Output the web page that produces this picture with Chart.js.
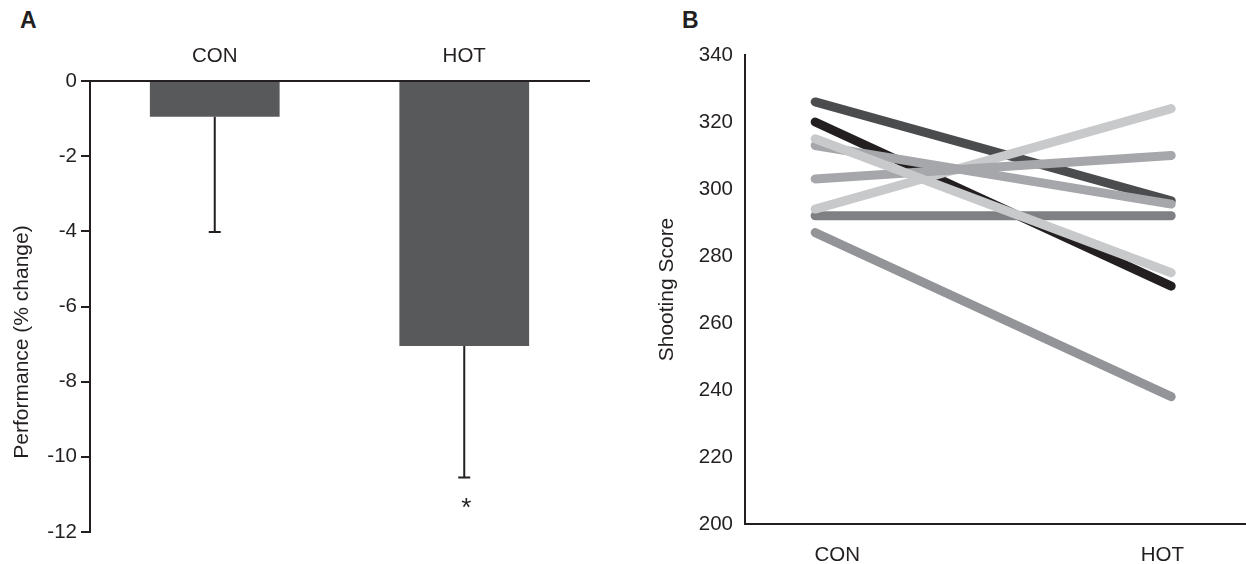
<!DOCTYPE html>
<html>
<head>
<meta charset="utf-8">
<script src="https://cdn.jsdelivr.net/npm/chart.js@4/dist/chart.umd.min.js"></script>
<style>
  body { margin: 0; background: #fff; width: 1246px; height: 564px; position: relative; overflow: hidden; }
  .panel { position: absolute; top: 0; }
  .letter { position: absolute; font: bold 23px 'Liberation Sans', Arial, sans-serif; color: #231f20; }
</style>
</head>
<body>
<div class="letter" style="left:20px; top:7px;">A</div>
<div class="letter" style="left:682px; top:7px;">B</div>
<div class="panel" style="left:0;"><canvas id="chartA" width="600" height="564"></canvas></div>
<div class="panel" style="left:640px;"><canvas id="chartB" width="606" height="564"></canvas></div>
<script>
// panel A: mean change in performance with error (SE) below the bar
const groups = ['CON', 'HOT'];
const perfMean = [-0.95, -7.05];
const perfErr = [3.07, 3.5];
const significant = [false, true];

// panel B: individual shooting scores, CON vs HOT (first listed is drawn on top)
const conScores = [315, 303, 313, 294, 292, 320, 326, 287];
const hotScores = [275, 310, 295.5, 324, 292, 271, 296.5, 238];
const lineColors = ['#c8c9cb', '#a6a7aa', '#a6a7aa', '#c8c9cb', '#7f8083', '#231f20', '#4b4c4e', '#939497'];

const ink = '#231f20';
const fontFamily = "'Liberation Sans', Arial, sans-serif";
Chart.defaults.font.family = fontFamily;
Chart.defaults.font.size = 20.5;
Chart.defaults.color = ink;

// downward error bars, the asterisk and the y title (sits low in the original)
const errorBars = {
    id: 'errorBars',
    afterDatasetsDraw(chart) {
        const ctx = chart.ctx;
        const yScale = chart.scales.y;
        const meta = chart.getDatasetMeta(0);
        ctx.save();
        ctx.strokeStyle = ink;
        ctx.fillStyle = ink;
        ctx.lineWidth = 2;
        meta.data.forEach(function(bar, i) {
            const x = bar.x;
            const y0 = yScale.getPixelForValue(perfMean[i]);
            const y1 = yScale.getPixelForValue(perfMean[i] - perfErr[i]);
            ctx.beginPath();
            ctx.moveTo(x, y0);
            ctx.lineTo(x, y1);
            ctx.moveTo(x - 6, y1);
            ctx.lineTo(x + 6, y1);
            ctx.stroke();
            if (significant[i]) {
                ctx.font = '26px ' + fontFamily;
                ctx.textAlign = 'center';
                ctx.textBaseline = 'middle';
                ctx.fillText('*', x + 2, y1 + 31);
            }
        });

        ctx.translate(22, 342);
        ctx.rotate(-Math.PI / 2);
        ctx.font = '21px ' + fontFamily;
        ctx.textAlign = 'center';
        ctx.textBaseline = 'middle';
        ctx.fillText('Performance (% change)', 0, 0);
        ctx.restore();
    }
};

new Chart(document.getElementById('chartA'), {
    type: 'bar',
    data: {
        labels: groups,
        datasets: [{
            data: perfMean,
            backgroundColor: '#58595b',
            barPercentage: 0.52,
            categoryPercentage: 1
        }]
    },
    options: {
        responsive: false,
        animation: false,
        layout: { padding: { top: 0, right: 11, bottom: 32, left: 0 } },
        plugins: { legend: { display: false }, tooltip: { enabled: false } },
        scales: {
            x: {
                position: 'top',
                grid: { display: false, drawTicks: false },
                border: { display: true, color: ink, width: 2 },
                ticks: { padding: 12 },
                afterFit: function(s) { s.height = 81; }
            },
            y: {
                min: -12,
                max: 0,
                ticks: { stepSize: 2, padding: 4 },
                grid: { display: true, drawOnChartArea: false, drawTicks: true, tickLength: 9, color: ink, lineWidth: 2 },
                border: { display: true, color: ink, width: 2 },
                afterFit: function(s) { s.width = 90; }
            }
        }
    },
    plugins: [errorBars]
});

new Chart(document.getElementById('chartB'), {
    type: 'line',
    data: {
        datasets: conScores.map(function(c, i) {
            return {
                data: [{ x: 0, y: c }, { x: 1, y: hotScores[i] }],
                borderColor: lineColors[i],
                borderWidth: 9,
                borderCapStyle: 'round',
                pointRadius: 0,
                tension: 0,
                clip: false
            };
        })
    },
    options: {
        responsive: false,
        animation: false,
        layout: { padding: { top: 55, right: 0, bottom: 0, left: 0 } },
        plugins: { legend: { display: false }, tooltip: { enabled: false } },
        scales: {
            x: {
                type: 'linear',
                min: -0.197,
                max: 1.21,
                grid: { display: false, drawTicks: false },
                border: { display: true, color: ink, width: 2 },
                ticks: {
                    padding: 19,
                    autoSkip: false,
                    callback: function(v, i) { return groups[i]; }
                },
                afterBuildTicks: function(s) { s.ticks = [{ value: 0.062 }, { value: 0.975 }]; },
                afterFit: function(s) { s.height = 40; }
            },
            y: {
                min: 200,
                max: 340,
                ticks: { stepSize: 20, padding: 12 },
                grid: { display: false, drawTicks: false },
                border: { display: true, color: ink, width: 2 },
                title: { display: true, text: 'Shooting Score', font: { size: 21 }, padding: { top: 15, bottom: 0 } },
                afterFit: function(s) { s.width = 105; }
            }
        }
    }
});
</script>
</body>
</html>
